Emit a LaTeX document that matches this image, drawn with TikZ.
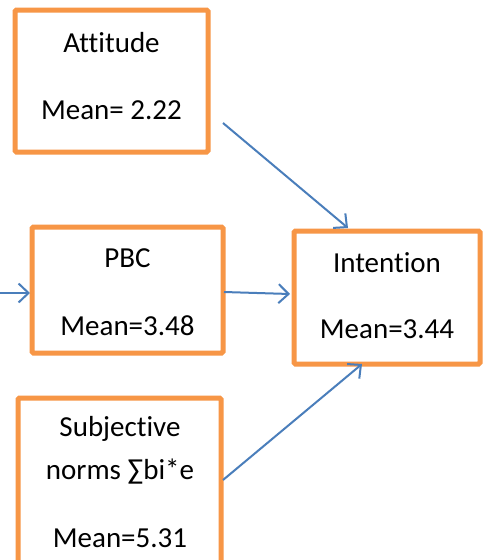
\documentclass[tikz,border=0pt]{standalone}
\usepackage{fontspec}
\setmainfont[Ligatures={NoCommon}]{Carlito}
\usetikzlibrary{arrows.meta}
\definecolor{boxorange}{HTML}{F79646}
\definecolor{linkblue}{HTML}{4A7EBB}
\tikzset{
  factor/.style={draw=boxorange, line width=5pt, rounded corners=1.5pt, fill=white, inner sep=0pt},
  caption/.style={anchor=base, inner sep=0pt, font=\fontsize{29}{35}\selectfont},
  link/.style={draw=linkblue, line width=2pt, -{Straight Barb[length=10pt,width=19pt,line width=2pt]}}
}
\begin{document}
\begin{tikzpicture}[x=1pt,y=-1pt]
  \clip (0,0) rectangle (488,560);
  \fill[white] (0,0) rectangle (488,560);

  % factor boxes
  \node[factor, minimum width=193pt, minimum height=142pt] (att) at (111.5,81) {};
  \node[factor, minimum width=191pt, minimum height=126pt] (pbc) at (127.5,290) {};
  \node[factor, minimum width=186pt, minimum height=133pt] (int) at (387,297.5) {};
  \node[factor, minimum width=203pt, minimum height=177pt] (sub) at (119.5,486.5) {};

  % box texts
  \node[caption] (attT) at (111.5,52) {Attitude};
  \node[caption] (attM) at (111.5,119) {Mean= 2.22};
  \node[caption] (pbcT) at (127.5,267) {PBC};
  \node[caption] (pbcM) at (127.5,335) {Mean=3.48};
  \node[caption] (intT) at (387,272) {Intention};
  \node[caption] (intM) at (387,338) {Mean=3.44};
  \node[caption] (subT) at (120,436) {Subjective};
  \node[caption] (subN) at (120,479) {norms ∑bi*e};
  \node[caption] (subM) at (120,547) {Mean=5.31};

  % connector end points
  \coordinate (attOut) at (223,123);
  \coordinate (intTop) at (348,228);
  \coordinate (inLeft) at (0,293);
  \coordinate (pbcIn)  at (30,293);
  \coordinate (pbcOut) at (224,292);
  \coordinate (intLeft) at (290,294);
  \coordinate (subOut) at (223,480);
  \coordinate (intBot) at (362,364);

  % connectors
  \draw[link] (attOut) -- (intTop);
  \draw[link] (inLeft) -- (pbcIn);
  \draw[link] (pbcOut) -- (intLeft);
  \draw[link] (subOut) -- (intBot);
\end{tikzpicture}
\end{document}
